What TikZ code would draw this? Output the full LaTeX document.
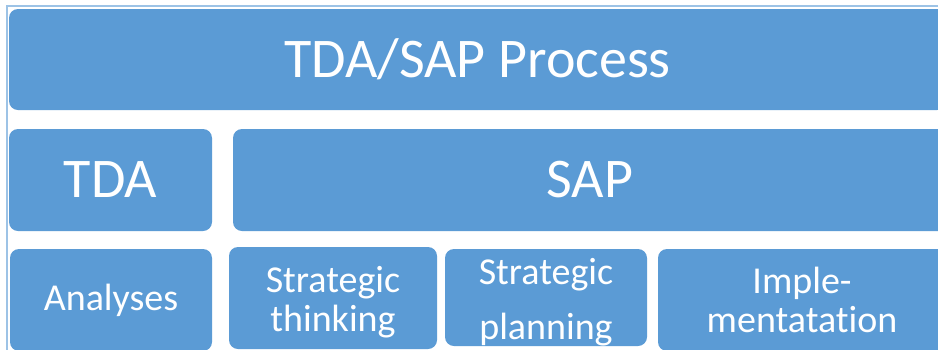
\documentclass[tikz,border=0pt]{standalone}
\usepackage{fontspec}
\setmainfont{Carlito}
\definecolor{boxblue}{HTML}{5B9BD5}
\definecolor{framblue}{HTML}{9DC3E6}
\tikzset{blk/.style={fill=boxblue, rounded corners=9pt, inner sep=0pt, text=white, align=center}}
\tikzset{big/.style={font=\fontsize{56}{60}\selectfont}}
\tikzset{small/.style={font=\fontsize{38}{39}\selectfont}}

\begin{document}
\begin{tikzpicture}[x=1pt, y=-1pt]
\useasboundingbox (0,0) rectangle (938,349);
\clip (0,0) rectangle (938,349);
\fill[white] (0,0) rectangle (938,349);

\draw[framblue, line width=1.5pt] (7,6) rectangle (1000,400);

\node[blk, big, minimum width=937pt, minimum height=101pt] (title) at (477.5,59.5) {TDA/SAP Process};

\node[blk, big, minimum width=203pt, minimum height=102pt] (tda) at (110.5,180) {TDA};
\node[blk, big, minimum width=714pt, minimum height=102pt] (sap) at (590,180) {SAP};

\node[blk, small, minimum width=202pt, minimum height=102pt] (ana) at (111,300) {Analyses};
\node[blk, small, minimum width=208pt, minimum height=102pt] (think) at (333,298) {};
\node[small, text=white, align=center] (thinktxt) at (333,302) {Strategic\\thinking};
\node[blk, small, minimum width=202pt, minimum height=97pt] (plan) at (546,297.5) {};
\node[small, text=white, align=center] (plantxt) at (546,302) {Strategic\\[16pt]planning};
\node[blk, small, minimum width=288pt, minimum height=102pt] (impl) at (802,300) {Imple-\\mentatat\kern0pt ion};

\end{tikzpicture}
\end{document}
